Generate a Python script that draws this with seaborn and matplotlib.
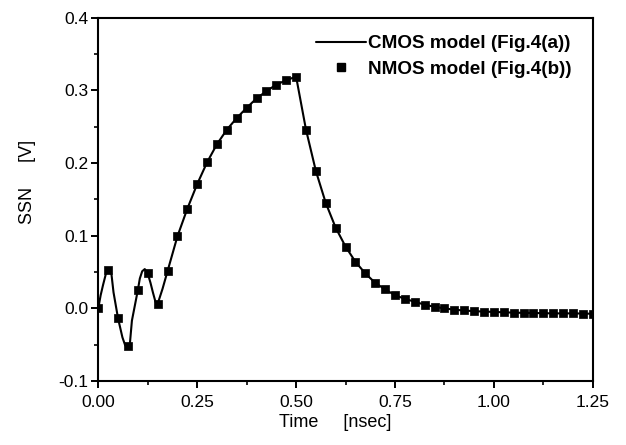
import matplotlib
matplotlib.use("Agg")
import matplotlib.pyplot as plt
import seaborn as sns
import pandas as pd
from matplotlib.ticker import MultipleLocator, FormatStrFormatter
from matplotlib.lines import Line2D

# NMOS model markers (every 0.025 ns)
nmos_time = [0.0, 0.025, 0.05, 0.075, 0.1, 0.125, 0.15, 0.175, 0.2, 0.225,
             0.25, 0.275, 0.3, 0.325, 0.35, 0.375, 0.4, 0.425, 0.45, 0.475,
             0.5, 0.525, 0.55, 0.575, 0.6, 0.625, 0.65, 0.675, 0.7, 0.725,
             0.75, 0.775, 0.8, 0.825, 0.85, 0.875, 0.9, 0.925, 0.95, 0.975,
             1.0, 1.025, 1.05, 1.075, 1.1, 1.125, 1.15, 1.175, 1.2, 1.225, 1.25]
nmos_ssn = [0.0, 0.053, -0.014, -0.052, 0.025, 0.048, 0.006, 0.051, 0.099, 0.137,
            0.171, 0.201, 0.226, 0.246, 0.262, 0.276, 0.289, 0.299, 0.308, 0.314,
            0.319, 0.246, 0.189, 0.145, 0.111, 0.085, 0.064, 0.048, 0.035, 0.026,
            0.018, 0.013, 0.009, 0.005, 0.002, 0.0, -0.002, -0.003, -0.004, -0.0045,
            -0.005, -0.0055, -0.006, -0.006, -0.0065, -0.0065, -0.007, -0.007, -0.007, -0.0073, -0.0075]

# CMOS model line (including its local extrema)
cmos_time = [0.0, 0.006, 0.012, 0.019, 0.025, 0.029, 0.0335, 0.0385, 0.05, 0.061, 0.068,
             0.074, 0.08, 0.085, 0.1, 0.105, 0.111, 0.1175, 0.125, 0.132, 0.138, 0.1445,
             0.15, 0.1625, 0.175, 0.2, 0.225,
             0.25, 0.275, 0.3, 0.325, 0.35, 0.375, 0.4, 0.425, 0.45, 0.475,
             0.5, 0.525, 0.55, 0.575, 0.6, 0.625, 0.65, 0.675, 0.7, 0.725,
             0.75, 0.775, 0.8, 0.825, 0.85, 0.875, 0.9, 0.925, 0.95, 0.975,
             1.0, 1.05, 1.1, 1.15, 1.2, 1.25]
cmos_ssn = [0.0, 0.018, 0.032, 0.047, 0.054, 0.055, 0.046, 0.022, -0.014, -0.040, -0.051,
            -0.054, -0.048, -0.017, 0.025, 0.041, 0.051, 0.054, 0.048, 0.035, 0.022, 0.009,
            0.006, 0.027, 0.051, 0.099, 0.137,
            0.171, 0.201, 0.226, 0.246, 0.262, 0.276, 0.289, 0.299, 0.308, 0.314,
            0.319, 0.246, 0.189, 0.145, 0.111, 0.085, 0.064, 0.048, 0.035, 0.026,
            0.018, 0.013, 0.009, 0.005, 0.002, 0.0, -0.002, -0.003, -0.004, -0.0045,
            -0.005, -0.006, -0.0065, -0.007, -0.007, -0.0075]

x_ticks = [0.0, 0.25, 0.5, 0.75, 1.0, 1.25]
y_ticks = [-0.1, 0.0, 0.1, 0.2, 0.3, 0.4]

sns.set_theme(style="ticks")
plt.rcParams['font.family'] = ['Liberation Sans', 'DejaVu Sans']
plt.rcParams['text.color'] = 'black'
plt.rcParams['axes.labelcolor'] = 'black'

fig = plt.figure(figsize=(6.26, 4.45), dpi=100)
ax = fig.add_axes([0.157, 0.144, 0.790, 0.816])

df_line = pd.DataFrame({"t": cmos_time, "v": cmos_ssn})
df_pts = pd.DataFrame({"t": nmos_time, "v": nmos_ssn})

sns.lineplot(data=df_line, x="t", y="v", ax=ax, color="black", linewidth=1.5,
             estimator=None, sort=True, zorder=2)
sns.scatterplot(data=df_pts, x="t", y="v", ax=ax, color="black", marker="s",
                s=32, edgecolor="black", linewidth=0.5, zorder=3)

ax.set_xlim(0, 1.25)
ax.set_ylim(-0.1, 0.4)
ax.set_xticks(x_ticks)
ax.set_yticks(y_ticks)
ax.xaxis.set_major_formatter(FormatStrFormatter('%.2f'))
ax.yaxis.set_major_formatter(FormatStrFormatter('%.1f'))
ax.xaxis.set_minor_locator(MultipleLocator(0.125))
ax.yaxis.set_minor_locator(MultipleLocator(0.05))
ax.tick_params(axis='both', which='major', direction='out', length=5, width=1.4,
               labelsize=12.5, colors='black', pad=2)
ax.tick_params(axis='x', which='major', pad=5)
ax.tick_params(axis='both', which='minor', direction='out', length=3, width=1.2, colors='black')
ax.tick_params(top=False, right=False, which='both')
for sp in ax.spines.values():
    sp.set_linewidth(1.5)
    sp.set_color('black')

ax.set_xlabel("Time     [nsec]", fontsize=13)
ax.set_ylabel("SSN     [V]", fontsize=13)
ax.xaxis.set_label_coords(0.48, -0.09)
ax.yaxis.set_label_coords(-0.126, 0.548)

handles = [Line2D([], [], color='black', linewidth=1.5),
           Line2D([], [], color='black', marker='s', linestyle='none', markersize=5.5)]
labels = ["CMOS model (Fig.4(a))", "NMOS model (Fig.4(b))"]
leg = ax.legend(handles, labels, loc='upper right', bbox_to_anchor=(0.958, 0.952),
                borderaxespad=0, borderpad=0,
                frameon=False, handlelength=2.6, handletextpad=0.15, labelspacing=0.42,
                prop={'weight': 'bold', 'size': 13.6, 'family': ['Liberation Sans', 'DejaVu Sans']})

fig.savefig("out.png", dpi=100)
